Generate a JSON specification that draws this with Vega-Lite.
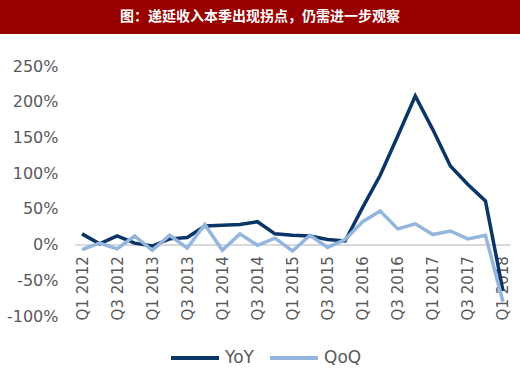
{
  "$schema": "https://vega.github.io/schema/vega-lite/v6.json",
  "padding": 0,
  "background": "white",
  "spacing": 24,
  "config": {"view": {"stroke": null}, "font": "DejaVu Sans"},
  "vconcat": [
    {
      "width": 520,
      "height": 34,
      "view": {"fill": "#990000", "stroke": null},
      "data": {"values": [{"title": "图：递延收入本季出现拐点，仍需进一步观察"}]},
      "mark": {"type": "text", "color": "white", "font": "Noto Sans CJK SC", "fontWeight": "bold", "fontSize": 14, "baseline": "middle", "align": "center"},
      "encoding": {"text": {"field": "title"}}
    },
    {
      "width": 520,
      "height": 250,
      "data": {"values": [
        {"q": "Q1 2012", "s": "YoY", "v": 15}, {"q": "Q2 2012", "s": "YoY", "v": 1}, {"q": "Q3 2012", "s": "YoY", "v": 12}, {"q": "Q4 2012", "s": "YoY", "v": 2},
        {"q": "Q1 2013", "s": "YoY", "v": -2}, {"q": "Q2 2013", "s": "YoY", "v": 8}, {"q": "Q3 2013", "s": "YoY", "v": 10}, {"q": "Q4 2013", "s": "YoY", "v": 26},
        {"q": "Q1 2014", "s": "YoY", "v": 27}, {"q": "Q2 2014", "s": "YoY", "v": 28}, {"q": "Q3 2014", "s": "YoY", "v": 32}, {"q": "Q4 2014", "s": "YoY", "v": 15},
        {"q": "Q1 2015", "s": "YoY", "v": 13}, {"q": "Q2 2015", "s": "YoY", "v": 12}, {"q": "Q3 2015", "s": "YoY", "v": 7}, {"q": "Q4 2015", "s": "YoY", "v": 5},
        {"q": "Q1 2016", "s": "YoY", "v": 52}, {"q": "Q2 2016", "s": "YoY", "v": 97}, {"q": "Q3 2016", "s": "YoY", "v": 152}, {"q": "Q4 2016", "s": "YoY", "v": 208},
        {"q": "Q1 2017", "s": "YoY", "v": 161}, {"q": "Q2 2017", "s": "YoY", "v": 110}, {"q": "Q3 2017", "s": "YoY", "v": 84}, {"q": "Q4 2017", "s": "YoY", "v": 61},
        {"q": "Q1 2018", "s": "YoY", "v": -65},
        {"q": "Q1 2012", "s": "QoQ", "v": -7}, {"q": "Q2 2012", "s": "QoQ", "v": 2}, {"q": "Q3 2012", "s": "QoQ", "v": -6}, {"q": "Q4 2012", "s": "QoQ", "v": 12},
        {"q": "Q1 2013", "s": "QoQ", "v": -8}, {"q": "Q2 2013", "s": "QoQ", "v": 13}, {"q": "Q3 2013", "s": "QoQ", "v": -5}, {"q": "Q4 2013", "s": "QoQ", "v": 28},
        {"q": "Q1 2014", "s": "QoQ", "v": -8}, {"q": "Q2 2014", "s": "QoQ", "v": 15}, {"q": "Q3 2014", "s": "QoQ", "v": -1}, {"q": "Q4 2014", "s": "QoQ", "v": 9},
        {"q": "Q1 2015", "s": "QoQ", "v": -9}, {"q": "Q2 2015", "s": "QoQ", "v": 13}, {"q": "Q3 2015", "s": "QoQ", "v": -4}, {"q": "Q4 2015", "s": "QoQ", "v": 7},
        {"q": "Q1 2016", "s": "QoQ", "v": 32}, {"q": "Q2 2016", "s": "QoQ", "v": 47}, {"q": "Q3 2016", "s": "QoQ", "v": 22}, {"q": "Q4 2016", "s": "QoQ", "v": 29},
        {"q": "Q1 2017", "s": "QoQ", "v": 14}, {"q": "Q2 2017", "s": "QoQ", "v": 19}, {"q": "Q3 2017", "s": "QoQ", "v": 8}, {"q": "Q4 2017", "s": "QoQ", "v": 13},
        {"q": "Q1 2018", "s": "QoQ", "v": -80}
      ]},
      "mark": {"type": "line", "strokeWidth": 3.5},
      "encoding": {
        "x": {
          "field": "q", "type": "ordinal", "sort": null,
          "scale": {"type": "point", "padding": 0.4, "range": [75, 510]},
          "axis": {
            "title": null, "labelAngle": -90, "offset": -71.4, "labelPadding": 11,
            "domain": true, "domainColor": "#d9d9d9", "domainWidth": 2,
            "ticks": false, "grid": false, "labelOverlap": false,
            "labelFontSize": 15, "labelColor": "#595959",
            "values": ["Q1 2012", "Q3 2012", "Q1 2013", "Q3 2013", "Q1 2014", "Q3 2014", "Q1 2015", "Q3 2015", "Q1 2016", "Q3 2016", "Q1 2017", "Q3 2017", "Q1 2018"]
          }
        },
        "y": {
          "field": "v", "type": "quantitative",
          "scale": {"domain": [-100, 250], "nice": false, "zero": false},
          "axis": {
            "title": null, "values": [-100, -50, 0, 50, 100, 150, 200, 250],
            "labelExpr": "datum.value + '%'", "grid": false, "domain": false, "ticks": false,
            "labelOverlap": false, "offset": -75, "labelPadding": 17, "labelFontSize": 16, "labelColor": "#595959"
          }
        },
        "color": {
          "field": "s", "type": "nominal",
          "scale": {"domain": ["YoY", "QoQ"], "range": ["#0b3566", "#93b5de"]},
          "legend": {
            "title": null, "orient": "none", "direction": "horizontal", "legendX": 169, "legendY": 332,
            "symbolType": "stroke", "symbolSize": 2304, "symbolStrokeWidth": 4,
            "labelFontSize": 17, "labelColor": "#595959", "columnPadding": 8, "labelOffset": 4
          }
        }
      }
    }
  ]
}
